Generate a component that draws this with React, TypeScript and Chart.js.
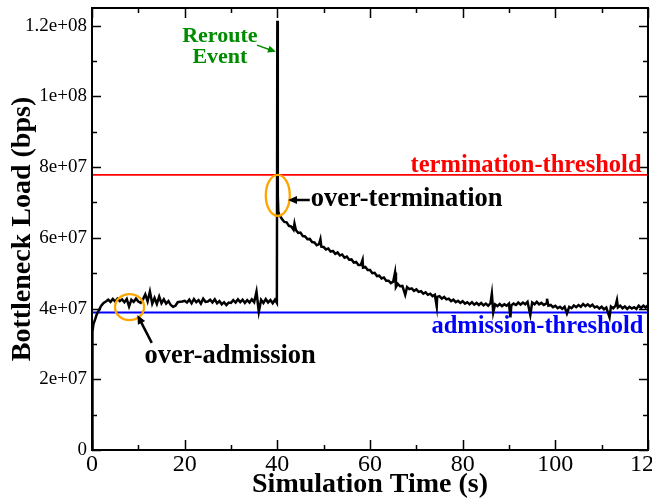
import { useEffect, useRef } from "react";
import { Chart, registerables } from "chart.js";

Chart.register(...registerables);

// ---------- data (load in units of 1e6 bps) ----------
const timeS: number[] = [
  0, 0.05, 0.15, 0.3, 0.5, 0.75, 1, 1.25, 1.5, 2, 2.5,
  3, 3.5, 4, 4.5, 5, 5.5, 6, 6.5, 7, 7.5,
  8, 8.5, 9, 9.5, 10, 10.5, 11, 11.5, 12, 12.5,
  13, 13.5, 14, 14.5, 15, 15.5, 16, 16.5, 17, 17.5,
  18, 18.5, 19, 19.5, 20, 20.5, 21, 21.5, 22, 22.5,
  23, 23.5, 24, 24.5, 25, 25.5, 26, 26.5, 27, 27.5,
  28, 28.5, 29, 29.5, 30, 30.5, 31, 31.5, 32, 32.5,
  33, 33.5, 34, 34.5, 35, 35.5, 36, 36.5, 37, 37.5,
  38, 38.5, 39, 39.5, 39.9,
  40, 40.1, 40.2, 40.4, 40.7,
  41, 41.5, 42, 42.5, 43, 43.5, 43.7, 44, 44.5, 45,
  45.5, 46, 46.5, 47, 47.5, 48, 48.5, 49, 49.3, 49.5,
  50, 50.5, 51, 51.5, 52, 52.5, 53, 53.5, 54, 54.5,
  55, 55.5, 56, 56.5, 57, 57.5, 58, 58.4, 58.5, 59,
  59.5, 60, 60.5, 61, 61.5, 62, 62.5, 63, 63.5, 64,
  64.5, 65, 65.4, 65.6, 66, 66.5, 67, 67.6, 68, 68.5,
  69, 69.5, 70, 70.5, 71, 71.5, 72, 72.5, 73, 73.5,
  74, 74.4, 74.5, 75, 75.5, 76, 76.5, 77, 77.5, 78,
  78.5, 79, 79.5, 80, 80.5, 81, 81.5, 82, 82.5, 83,
  83.5, 84, 84.5, 85, 85.5, 86, 86.3, 86.6, 87, 87.5,
  88, 88.5, 89, 89.5, 90, 90.3, 90.5, 91, 91.5, 92,
  92.5, 93, 93.5, 94, 94.6, 95, 95.5, 96, 96.5, 97,
  97.5, 98, 98.2, 98.5, 99, 99.5, 100, 100.5, 101, 101.5,
  102, 102.5, 103, 103.5, 104, 104.5, 105, 105.5, 106, 106.5,
  107, 107.5, 108, 108.5, 109, 109.5, 110, 110.5, 111, 111.7,
  112, 112.5, 113, 113.3, 113.5, 114, 114.5, 115, 115.5, 116,
  116.5, 117, 117.5, 118, 118.5, 119, 119.5, 120,
];

const loadMbps: number[] = [
  0, 28, 33.5, 35.5, 36.3, 37.2, 38.3, 38.9, 39.6, 40.8, 41.6,
  42.0, 42.5, 41.9, 42.7, 42.0, 42.8, 42.1, 42.6, 41.8, 42.7,
  40.6, 42.5, 41.9, 42.8, 42.0, 41.6, 42.6, 44.0, 42.0, 44.8,
  41.4, 43.0, 41.3, 43.4, 41.5, 42.6, 41.4, 42.1, 41.0, 40.5,
  40.8, 41.8, 41.9, 42.0, 42.2, 41.7, 42.5, 41.5, 42.7, 41.8,
  42.4, 41.4, 42.8, 41.9, 42.0, 42.5, 41.7, 42.6, 41.5, 42.1,
  41.2, 41.8, 41.0, 41.7, 41.6, 42.4, 41.7, 42.6, 41.8, 42.5,
  41.6, 42.4, 41.7, 42.6, 41.8, 44.8, 39.1, 42.5, 41.6, 42.7,
  41.7, 42.4, 41.5, 42.5, 41.6,
  121.4, 72, 67.5, 66.5, 66.0,
  65.3, 64.5, 64.4, 63.4, 63.2, 62.3, 64.0, 62.2, 61.4, 61.5,
  60.5, 60.4, 59.6, 59.7, 58.8, 58.7, 57.9, 58.2, 59.6, 57.5,
  57.4, 56.7, 57.0, 56.1, 56.3, 55.5, 55.9, 55.0, 55.3, 54.4,
  54.7, 53.8, 53.9, 53.0, 53.2, 52.3, 52.3, 53.8, 51.6, 51.8,
  50.9, 50.9, 50.0, 50.1, 49.2, 49.3, 48.5, 48.8, 47.9, 47.9,
  47.2, 47.6, 50.2, 46.1, 47.0, 46.3, 46.4, 43.9, 46.1, 45.5,
  45.7, 45.0, 45.4, 44.7, 44.9, 44.2, 44.6, 43.9, 44.2, 43.5,
  43.9, 40.6, 43.3, 43.5, 42.8, 43.3, 42.6, 42.8, 42.1, 42.5,
  41.8, 42.2, 41.6, 42.1, 41.4, 41.8, 41.2, 41.8, 41.1, 41.6,
  41.0, 41.6, 40.9, 41.4, 40.8, 41.5, 44.2, 38.9, 41.2, 40.7,
  41.3, 40.7, 41.2, 40.8, 41.4, 37.5, 40.9, 41.4, 41.0, 41.7,
  41.1, 41.7, 41.2, 41.9, 38.2, 41.7, 41.2, 41.9, 41.2, 41.6,
  41.0, 41.4, 42.8, 40.8, 41.0, 40.4, 40.8, 40.1, 40.5, 39.9,
  40.5, 38.6, 40.5, 40.1, 40.9, 40.4, 41.0, 40.5, 41.3, 40.7,
  41.2, 40.6, 41.1, 40.3, 40.6, 40.0, 40.5, 39.8, 40.3, 37.5,
  40.6, 40.1, 40.8, 42.4, 40.3, 40.8, 40.1, 40.6, 39.9, 40.5,
  40.0, 40.4, 39.9, 40.8, 40.2, 40.8, 40.3, 41.0,
];

const terminationThreshold = 77.8;
const admissionThreshold = 38.9;

const xTickValues = [0, 20, 40, 60, 80, 100, 120];
const xTickLabels = ["0", "20", "40", "60", "80", "100", "120"];
const xMinorTicks = [10, 30, 50, 70, 90, 110];
const yTickValues = [0, 20, 40, 60, 80, 100, 120];
const yTickLabels = ["0", "2e+07", "4e+07", "6e+07", "8e+07", "1e+08", "1.2e+08"];
const yMinorTicks = [10, 30, 50, 70, 90, 110];

const xTitle = "Simulation Time (s)";
const yTitle = "Bottleneck Load (bps)";

// ---------- annotation config ----------
const SERIF = '"Liberation Serif", "Times New Roman", serif';
const GREEN = "rgb(0,139,0)";
const RED = "#ff0000";
const BLUE = "#0000ff";
const ORANGE = "#ffa500";

const textNotes = [
  { text: "Reroute", x: 27.6, y: 115.5, color: GREEN, align: "center", size: 22 },
  { text: "Event", x: 27.6, y: 109.4, color: GREEN, align: "center", size: 22 },
  { text: "termination-threshold", x: 118.6, y: 78.7, color: RED, align: "right", size: 24.5 },
  { text: "admission-threshold", x: 119.0, y: 33.2, color: BLUE, align: "right", size: 24.5 },
  { text: "over-termination", x: 47.2, y: 68.9, color: "#000", align: "left", size: 26.5 },
  { text: "over-admission", x: 11.35, y: 24.7, color: "#000", align: "left", size: 26.5 },
];

const arrowNotes = [
  { x0: 35.6, y0: 114.5, x1: 39.7, y1: 112.6, color: GREEN, width: 1.5, head: 8 },
  { x0: 47.0, y0: 70.7, x1: 42.3, y1: 70.7, color: "#000", width: 2.5, head: 9 },
  { x0: 12.9, y0: 30.3, x1: 9.8, y1: 38.2, color: "#000", width: 2.5, head: 9 },
];

const ellipseNotes = [
  { x: 40.1, y: 72, rx: 12, ry: 20.5 },
  { x: 8.1, y: 40.4, rx: 14.5, ry: 13 },
];

const decorPlugin = {
  id: "decor",
  afterDraw(chart: any) {
    const { ctx, chartArea } = chart;
    const xs = chart.scales.x;
    const ys = chart.scales.y;
    const { left, right, top, bottom } = chartArea;
    ctx.save();
    // ticks (inward, mirrored)
    ctx.strokeStyle = "#000";
    ctx.lineWidth = 1.5;
    const vTick = (v: number, len: number) => {
      const px = Math.round(xs.getPixelForValue(v)) + 0.5;
      ctx.beginPath();
      ctx.moveTo(px, bottom);
      ctx.lineTo(px, bottom - len);
      ctx.moveTo(px, top);
      ctx.lineTo(px, top + len);
      ctx.stroke();
    };
    const hTick = (v: number, len: number) => {
      const py = Math.round(ys.getPixelForValue(v)) + 0.5;
      ctx.beginPath();
      ctx.moveTo(left, py);
      ctx.lineTo(left + len, py);
      ctx.moveTo(right, py);
      ctx.lineTo(right - len, py);
      ctx.stroke();
    };
    xTickValues.forEach((v) => vTick(v, 10));
    xMinorTicks.forEach((v) => vTick(v, 5));
    yTickValues.forEach((v) => hTick(v, 9));
    yMinorTicks.forEach((v) => hTick(v, 5));
    // frame
    ctx.lineWidth = 2;
    ctx.strokeRect(left, top, right - left, bottom - top);

    // ellipses
    ctx.strokeStyle = ORANGE;
    ctx.lineWidth = 2.3;
    ellipseNotes.forEach((e) => {
      ctx.beginPath();
      ctx.ellipse(xs.getPixelForValue(e.x), ys.getPixelForValue(e.y), e.rx, e.ry, 0, 0, Math.PI * 2);
      ctx.stroke();
    });

    // arrows
    arrowNotes.forEach((a) => {
      const x0 = xs.getPixelForValue(a.x0);
      const y0 = ys.getPixelForValue(a.y0);
      const x1 = xs.getPixelForValue(a.x1);
      const y1 = ys.getPixelForValue(a.y1);
      const ang = Math.atan2(y1 - y0, x1 - x0);
      const bx = x1 - Math.cos(ang) * a.head * 0.8;
      const by = y1 - Math.sin(ang) * a.head * 0.8;
      ctx.strokeStyle = a.color;
      ctx.fillStyle = a.color;
      ctx.lineWidth = a.width;
      ctx.beginPath();
      ctx.moveTo(x0, y0);
      ctx.lineTo(bx, by);
      ctx.stroke();
      const hw = a.head * 0.45;
      ctx.beginPath();
      ctx.moveTo(x1, y1);
      ctx.lineTo(x1 - Math.cos(ang) * a.head - Math.sin(ang) * hw, y1 - Math.sin(ang) * a.head + Math.cos(ang) * hw);
      ctx.lineTo(x1 - Math.cos(ang) * a.head + Math.sin(ang) * hw, y1 - Math.sin(ang) * a.head - Math.cos(ang) * hw);
      ctx.closePath();
      ctx.fill();
    });

    // texts
    ctx.textBaseline = "alphabetic";
    textNotes.forEach((t) => {
      ctx.font = `bold ${t.size}px ${SERIF}`;
      ctx.fillStyle = t.color;
      ctx.textAlign = t.align as CanvasTextAlign;
      ctx.fillText(t.text, xs.getPixelForValue(t.x), ys.getPixelForValue(t.y));
    });
    ctx.restore();
  },
};

export default function App() {
  const canvasRef = useRef<HTMLCanvasElement | null>(null);

  useEffect(() => {
    const canvas = canvasRef.current;
    if (!canvas) return;
    const chart = new Chart(canvas, {
      type: "line",
      data: {
        datasets: [
          {
            label: "load",
            data: timeS.map((t, i) => ({ x: t, y: loadMbps[i] })),
            borderColor: "#000",
            borderWidth: 2.5,
            pointRadius: 0,
            tension: 0,
            order: 0,
          },
          {
            label: "termination-threshold",
            data: [
              { x: 0, y: terminationThreshold },
              { x: 120, y: terminationThreshold },
            ],
            borderColor: RED,
            borderWidth: 1.6,
            pointRadius: 0,
            order: 1,
          },
          {
            label: "admission-threshold",
            data: [
              { x: 0, y: admissionThreshold },
              { x: 120, y: admissionThreshold },
            ],
            borderColor: BLUE,
            borderWidth: 2,
            pointRadius: 0,
            order: 1,
          },
        ],
      },
      options: {
        animation: false,
        responsive: false,
        devicePixelRatio: 1,
        layout: { padding: { top: 8, right: 32, left: 0, bottom: 0 } },
        plugins: { legend: { display: false }, tooltip: { enabled: false } },
        scales: {
          x: {
            type: "linear",
            min: 0,
            max: 120,
            grid: { display: false, drawTicks: false },
            border: { display: false },
            afterBuildTicks: (scale: any) => {
              scale.ticks = xTickValues.map((v) => ({ value: v }));
            },
            afterFit: (scale: any) => {
              scale.height = 53;
              scale.paddingLeft = 0;
              scale.paddingRight = 0;
            },
            ticks: {
              autoSkip: false,
              maxRotation: 0,
              padding: 0,
              color: "#000",
              font: { family: SERIF, size: 24 },
              callback: (_v: any, i: number) => xTickLabels[i],
            },
            title: {
              display: true,
              text: xTitle,
              color: "#000",
              font: { family: SERIF, size: 28, weight: "bold" },
              padding: { top: 0, bottom: 1.7 },
            },
          },
          y: {
            type: "linear",
            min: 0,
            max: 125,
            grid: { display: false, drawTicks: false },
            border: { display: false },
            afterBuildTicks: (scale: any) => {
              scale.ticks = yTickValues.map((v) => ({ value: v }));
            },
            afterFit: (scale: any) => {
              scale.width = 92;
              scale.paddingTop = 0;
              scale.paddingBottom = 0;
            },
            ticks: {
              autoSkip: false,
              padding: 5,
              color: "#000",
              font: { family: SERIF, size: 19 },
              callback: (_v: any, i: number) => yTickLabels[i],
            },
            title: {
              display: true,
              text: yTitle,
              color: "#000",
              font: { family: SERIF, size: 28, weight: "bold" },
              padding: { top: 6.2, bottom: 0 },
            },
          },
        },
      } as any,
      plugins: [decorPlugin],
    });
    return () => chart.destroy();
  }, []);

  return (
    <div
      style={{
        position: "fixed",
        left: 0,
        top: 0,
        width: 652,
        height: 503,
        overflow: "hidden",
        background: "#fff",
      }}
    >
      <canvas
        ref={canvasRef}
        width={680}
        height={503}
        style={{ display: "block", width: 680, height: 503 }}
      />
    </div>
  );
}
